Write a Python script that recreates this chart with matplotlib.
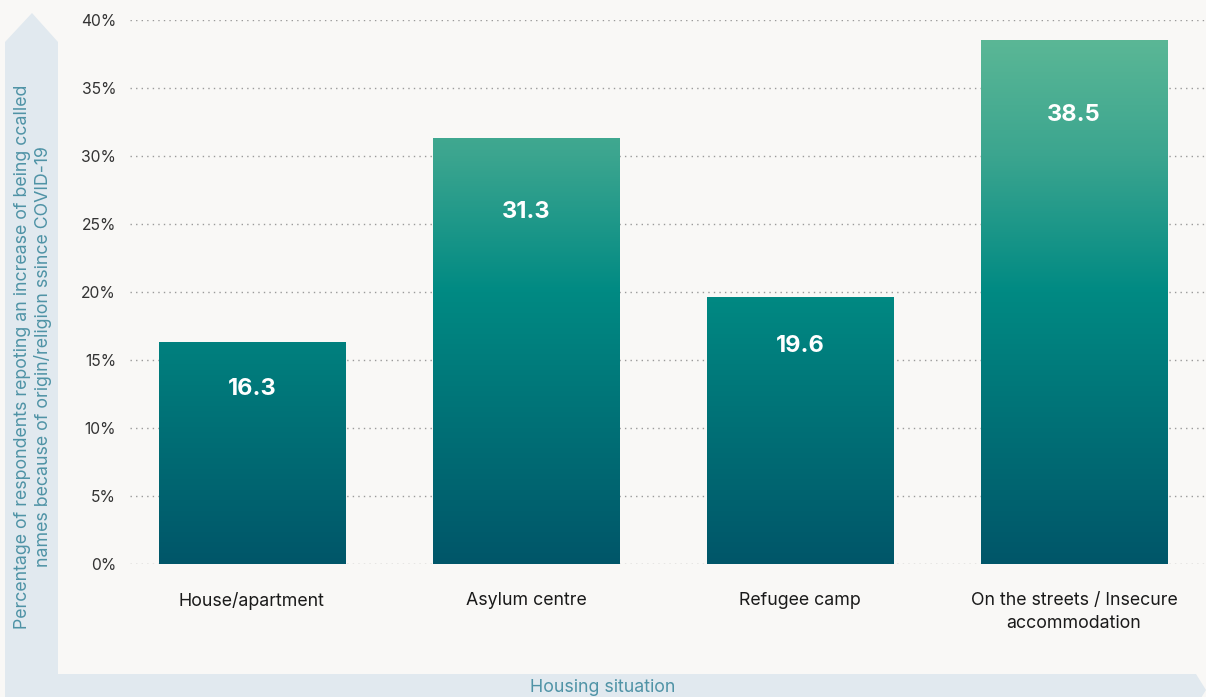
import numpy as np
import matplotlib
matplotlib.use("Agg")
import matplotlib.pyplot as plt
from matplotlib.colors import LinearSegmentedColormap
from matplotlib.patches import Polygon, Rectangle

categories = ["House/apartment", "Asylum centre", "Refugee camp",
              "On the streets / Insecure\naccommodation"]
values = [16.3, 31.3, 19.6, 38.5]
# how far below each bar top the value label sits (in %)
label_depth = [3.4, 5.4, 3.6, 5.5]
yticks = [0, 5, 10, 15, 20, 25, 30, 35, 40]

bg = "#f9f8f6"
band = "#e1e9ef"
label_col = "#4f93a6"

plt.rcParams["font.family"] = ["Inter", "DejaVu Sans"]

fig = plt.figure(figsize=(12.06, 6.97), dpi=100, facecolor=bg)

# arrow bands behind the axes
bg_ax = fig.add_axes([0, 0, 1, 1])
bg_ax.set_xlim(0, 1206)
bg_ax.set_ylim(697, 0)
bg_ax.axis("off")
bg_ax.add_patch(Polygon([[5, 700], [5, 42], [32, 13], [58, 42], [58, 700]],
                        closed=True, color=band, lw=0))
bg_ax.add_patch(Polygon([[5, 674], [1196, 674], [1206, 690], [1196, 706], [5, 706]],
                        closed=True, color=band, lw=0))
bg_ax.text(33, 357, "Percentage of respondents repoting an increase of being ccalled\n"
           "names because of origin/religion ssince COVID-19",
           rotation=90, ha="center", va="center", color=label_col, fontsize=12.8,
           linespacing=1.25)
bg_ax.text(603, 687, "Housing situation", ha="center", va="center",
           color=label_col, fontsize=12.8)

ax = fig.add_axes([130 / 1206, 133 / 697, 1076 / 1206, 544 / 697])
ax.set_facecolor("none")
ax.set_xlim(-0.445, 3.482)
ax.set_ylim(0, 40)

cmap = LinearSegmentedColormap.from_list(
    "tealgreen", [(0, "#005669"), (0.5, "#008a83"), (0.75, "#3ba58f"), (1, "#60ba97")])
grad = np.linspace(0, 1, 256).reshape(-1, 1)

width = 0.68
for i, v in enumerate(values):
    rect = Rectangle((i - width / 2, 0), width, v, facecolor="none", edgecolor="none")
    ax.add_patch(rect)
    im = ax.imshow(grad, extent=[i - width / 2, i + width / 2, 0, 40], origin="lower",
                   cmap=cmap, aspect="auto", zorder=2)
    im.set_clip_path(rect)
    ax.text(i, v - label_depth[i], f"{v}", ha="center", va="center", color="white",
            fontsize=17, fontweight="bold", zorder=3)

for t in yticks:
    ax.axhline(t, color="#9a9a9a", lw=1, ls=(0, (1, 3)), zorder=1)

ax.set_yticks(yticks)
ax.set_yticklabels([f"{t}%" for t in yticks], fontsize=11.3, color="#333333")
ax.set_xticks(range(len(categories)))
ax.set_xticklabels(categories, fontsize=12.8, color="#1a1a1a", linespacing=1.45)
ax.tick_params(axis="both", length=0)
ax.tick_params(axis="y", pad=10)
ax.tick_params(axis="x", pad=20)
for s in ax.spines.values():
    s.set_visible(False)

fig.savefig("out.png", dpi=100, facecolor=bg)
